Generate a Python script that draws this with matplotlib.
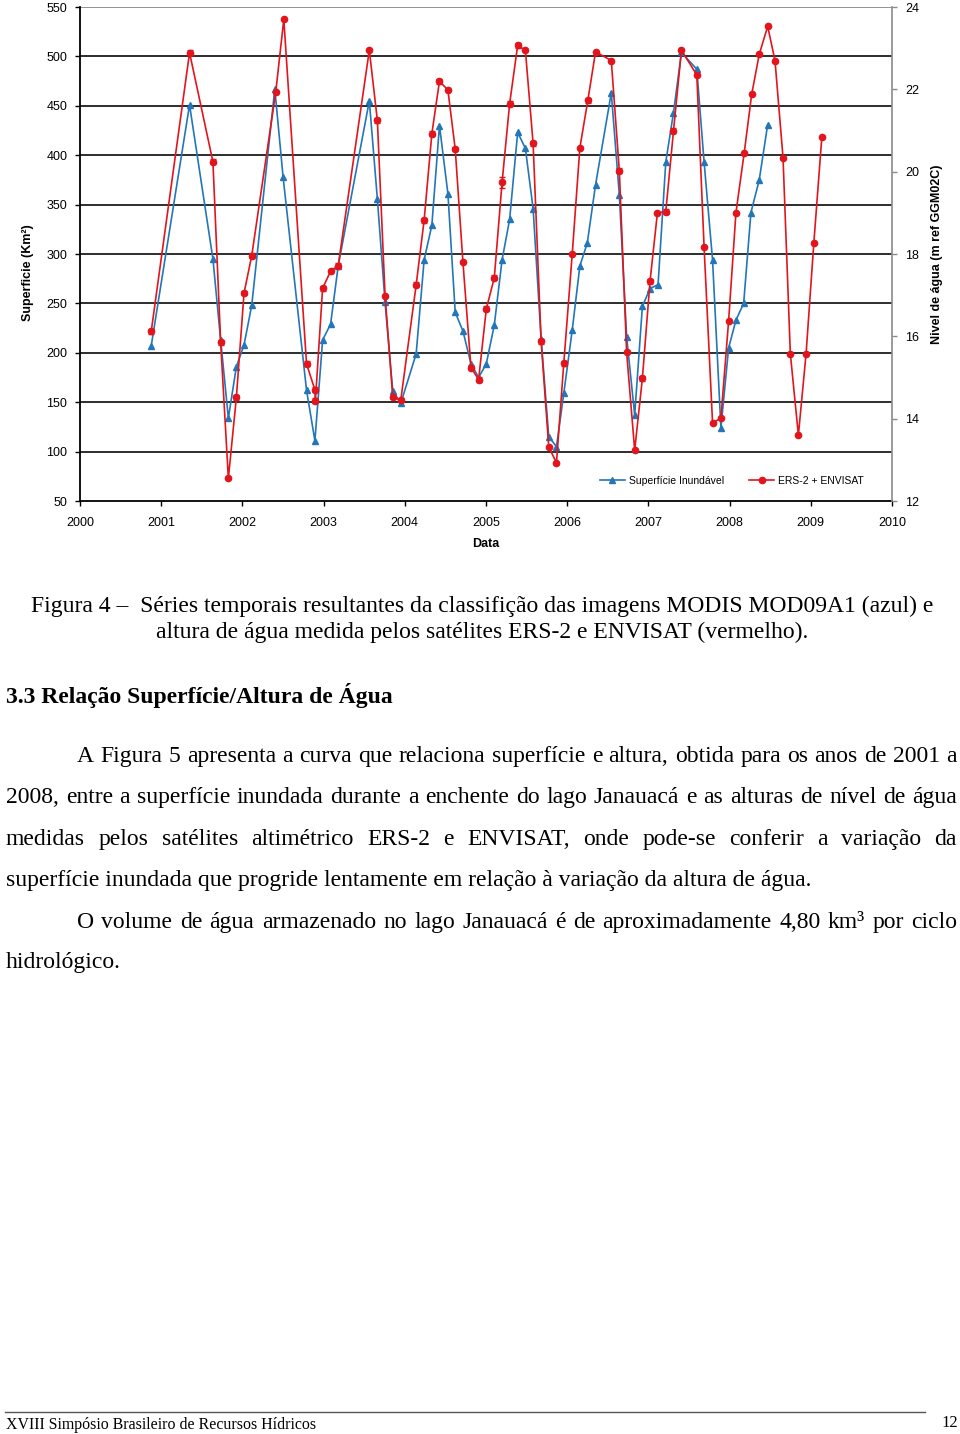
#!/usr/bin/env python3
"""Figura 4: séries temporais de superfície inundada (MODIS) e nível de água (ERS-2/ENVISAT),
com o texto da página logo abaixo."""

import matplotlib

matplotlib.use("Agg")
import matplotlib.pyplot as plt
from matplotlib.lines import Line2D

W, H = 960, 1434
BLUE = "#2376B7"
RED = "#E3151C"
SANS = "Liberation Sans"
SERIF = "Liberation Serif"
BODY = 17

# Superfície inundável (km²), MODIS MOD09A1
area_years = [2000.877, 2001.349, 2001.637, 2001.732, 2001.827, 2001.926, 2002.020, 2002.115,
              2002.399, 2002.501, 2002.790, 2002.893, 2002.988, 2003.086, 2003.180, 2003.563,
              2003.662, 2003.757, 2003.852, 2003.951, 2004.140, 2004.238, 2004.333, 2004.427,
              2004.531, 2004.621, 2004.716, 2004.815, 2004.909, 2005.004, 2005.102, 2005.198,
              2005.291, 2005.390, 2005.485, 2005.580, 2005.679, 2005.773, 2005.868, 2005.958,
              2006.062, 2006.156, 2006.247, 2006.349, 2006.543, 2006.642, 2006.732, 2006.831,
              2006.926, 2007.020, 2007.119, 2007.214, 2007.309, 2007.407, 2007.596, 2007.686,
              2007.790, 2007.893, 2007.988, 2008.078, 2008.173, 2008.263, 2008.365, 2008.469]
area_km2 = [207, 451, 295, 213, 134, 186, 208, 248,
            467, 378, 162, 111, 213, 229, 288, 455,
            356, 251, 161, 149, 199, 294, 329, 430,
            361, 241, 222, 189, 175, 189, 228, 294,
            335, 423, 407, 346, 214, 115, 105, 159,
            223, 288, 311, 370, 463, 360, 216, 137,
            247, 265, 269, 393, 443, 504, 487, 393,
            294, 124, 205, 233, 250, 342, 375, 431]

# Nível de água (m ref GGM02C), ERS-2 + ENVISAT
level_years = [2000.877, 2001.349, 2001.637, 2001.732, 2001.827, 2001.926, 2002.020, 2002.115,
               2002.411, 2002.510, 2002.790, 2002.893, 2002.899, 2002.988, 2003.086, 2003.180,
               2003.563, 2003.662, 2003.757, 2003.852, 2003.951, 2004.140, 2004.238, 2004.333,
               2004.427, 2004.531, 2004.621, 2004.716, 2004.815, 2004.909, 2005.004, 2005.102,
               2005.198, 2005.291, 2005.390, 2005.485, 2005.580, 2005.679, 2005.773, 2005.868,
               2005.958, 2006.062, 2006.156, 2006.254, 2006.349, 2006.543, 2006.642, 2006.732,
               2006.831, 2006.926, 2007.020, 2007.111, 2007.214, 2007.309, 2007.407, 2007.596,
               2007.686, 2007.790, 2007.893, 2007.988, 2008.078, 2008.180, 2008.272, 2008.365,
               2008.469, 2008.559, 2008.658, 2008.748, 2008.847, 2008.942, 2009.037, 2009.136]
level_m = [16.12, 22.89, 20.24, 15.86, 12.55, 14.52, 17.05, 17.96,
           21.94, 23.70, 15.33, 14.70, 14.44, 17.17, 17.58, 17.72,
           22.95, 21.25, 16.99, 14.52, 14.46, 17.25, 18.82, 20.92,
           22.20, 21.98, 20.55, 17.80, 15.24, 14.95, 16.67, 17.42,
           19.74, 21.65, 23.07, 22.95, 20.69, 15.88, 13.31, 12.93,
           15.35, 18.00, 20.58, 21.73, 22.91, 22.70, 20.02, 15.61,
           13.23, 14.98, 17.34, 19.00, 19.03, 20.99, 22.95, 22.35,
           18.16, 13.90, 14.01, 16.38, 19.00, 20.46, 21.88, 22.85,
           23.53, 22.70, 20.34, 15.58, 13.60, 15.58, 18.26, 20.84]
level_err = [0.06, 0.06, 0.06, 0.06, 0.0, 0.06, 0.05, 0.06,
             0.0, 0.0, 0.06, 0.06, 0.06, 0.06, 0.0, 0.06,
             0.0, 0.06, 0.0, 0.05, 0.05, 0.06, 0.06, 0.06,
             0.06, 0.0, 0.06, 0.0, 0.06, 0.06, 0.06, 0.06,
             0.13, 0.06, 0.06, 0.0, 0.06, 0.06, 0.0, 0.0,
             0.06, 0.0, 0.0, 0.06, 0.0, 0.0, 0.06, 0.0,
             0.0, 0.06, 0.06, 0.0, 0.06, 0.06, 0.0, 0.0,
             0.0, 0.0, 0.0, 0.0, 0.0, 0.0, 0.0, 0.0,
             0.0, 0.0, 0.0, 0.0, 0.0, 0.0, 0.0, 0.0]

CAPTION = ["Figura 4 –  Séries temporais resultantes da classifição das imagens MODIS MOD09A1 (azul) e",
           "altura de água medida pelos satélites ERS-2 e ENVISAT (vermelho)."]
HEADING = "3.3 Relação Superfície/Altura de Água"
# (texto, x inicial, baseline, justificar?)
PARAGRAPH = [
    ("A Figura 5 apresenta a curva que relaciona  superfície e altura, obtida para os anos de 2001 a", 77, 761.7, True),
    ("2008,  entre a superfície inundada durante a enchente do lago Janauacá e as alturas de nível de água", 6, 803.3, True),
    ("medidas pelos satélites altimétrico ERS-2 e ENVISAT, onde pode-se conferir a variação da", 6, 845.0, True),
    ("superfície inundada que progride lentamente em relação à variação da altura de água.", 6, 885.7, False),
    ("O volume de água armazenado no lago Janauacá é de aproximadamente 4,80 km³ por ciclo", 77, 927.7, True),
    ("hidrológico.", 6, 968.3, False),
]
FOOTER = "XVIII Simpósio Brasileiro de Recursos Hídricos"
PAGE = "12"


def fx(px):
    return px / W


def fy(py):
    return 1 - py / H


def justify(fig, renderer, line, x0, x1, base, size):
    words = line.split()
    texts = [fig.text(0, fy(base), w, family=SERIF, fontsize=size, va="baseline") for w in words]
    widths = [t.get_window_extent(renderer).width for t in texts]
    gap = (x1 - x0 - sum(widths)) / (len(words) - 1)
    x = x0
    for t, w in zip(texts, widths):
        t.set_x(fx(x))
        x += w + gap


def draw_chart(fig):
    ax = fig.add_axes([fx(80), fy(501), (892 - 80) / W, (501 - 7) / H])
    ax2 = ax.twinx()

    for v in range(100, 551, 50):
        ax.axhline(v, color="#8a8a8a" if v == 550 else "#1c1c1c", lw=1.3, zorder=0)

    ax.plot(area_years, area_km2, color=BLUE, marker="^", ms=4.5, lw=1.2, zorder=3)
    ax2.errorbar(level_years, level_m, yerr=level_err, color=RED, marker="o", ms=4.5,
                 lw=1.2, elinewidth=1, capsize=2, zorder=3)

    ax.set_xlim(2000, 2010)
    ax.set_ylim(50, 550)
    ax2.set_ylim(12, 24)
    ax.set_xticks(range(2000, 2011))
    ax.set_yticks(range(50, 551, 50))
    ax2.set_yticks(range(12, 25, 2))

    for side in ("top", "right"):
        ax.spines[side].set_visible(False)
    for side in ("top", "left", "bottom"):
        ax2.spines[side].set_visible(False)
    ax.spines["left"].set_linewidth(1.3)
    ax.spines["bottom"].set_linewidth(1.3)
    ax2.spines["right"].set_color("#8a8a8a")
    ax2.spines["right"].set_linewidth(1.2)

    ax.tick_params(axis="y", direction="out", length=3.6, width=1, pad=5.5, labelsize=9)
    ax.tick_params(axis="x", direction="out", length=3.6, width=1, pad=8, labelsize=9)
    ax2.tick_params(axis="y", direction="out", length=3.6, width=1, pad=6, labelsize=9,
                    color="#8a8a8a")
    for lab in ax.get_xticklabels() + ax.get_yticklabels() + ax2.get_yticklabels():
        lab.set_family(SANS)

    fig.text(fx(486), fy(544), "Data", family=SANS, fontsize=9, fontweight="bold",
             ha="center", va="center")
    fig.text(fx(28), fy(273), "Superficie (Km²)", family=SANS, fontsize=9, fontweight="bold",
             rotation=90, ha="center", va="center")
    fig.text(fx(937), fy(254), "Nivel de água (m ref GGM02C)", family=SANS, fontsize=9,
             fontweight="bold", rotation=90, ha="center", va="center")

    handles = [Line2D([], [], color=BLUE, marker="^", ms=4.5, lw=1.2),
               Line2D([], [], color=RED, marker="o", ms=4.5, lw=1.2)]
    ax2.legend(handles, ["Superfície Inundável", "ERS-2 + ENVISAT"], loc="center",
               bbox_to_anchor=(0.803, 0.041), ncol=2, frameon=False,
               prop={"family": SANS, "size": 7.5}, handlelength=2.4,
               handletextpad=0.4, columnspacing=2.4)


def main():
    fig = plt.figure(figsize=(W / 100, H / 100), dpi=100)
    draw_chart(fig)
    renderer = fig.canvas.get_renderer()

    for line, base in zip(CAPTION, (611.7, 638.3)):
        fig.text(fx(482), fy(base), line, family=SERIF, fontsize=BODY, ha="center", va="baseline")
    fig.text(fx(6), fy(703.3), HEADING, family=SERIF, fontsize=BODY, fontweight="bold",
             va="baseline")

    for line, x0, base, just in PARAGRAPH:
        if just:
            justify(fig, renderer, line, x0, 957, base, BODY)
        else:
            fig.text(fx(x0), fy(base), line, family=SERIF, fontsize=BODY, va="baseline")

    fig.add_artist(Line2D([fx(5), fx(925)], [fy(1412), fy(1412)], color="#555555", lw=1))
    fig.text(fx(6), fy(1429), FOOTER, family=SERIF, fontsize=11.4, va="baseline")
    fig.text(fx(958), fy(1427), PAGE, family=SERIF, fontsize=12, ha="right", va="baseline")

    fig.savefig("out.png", dpi=100)


if __name__ == "__main__":
    main()
